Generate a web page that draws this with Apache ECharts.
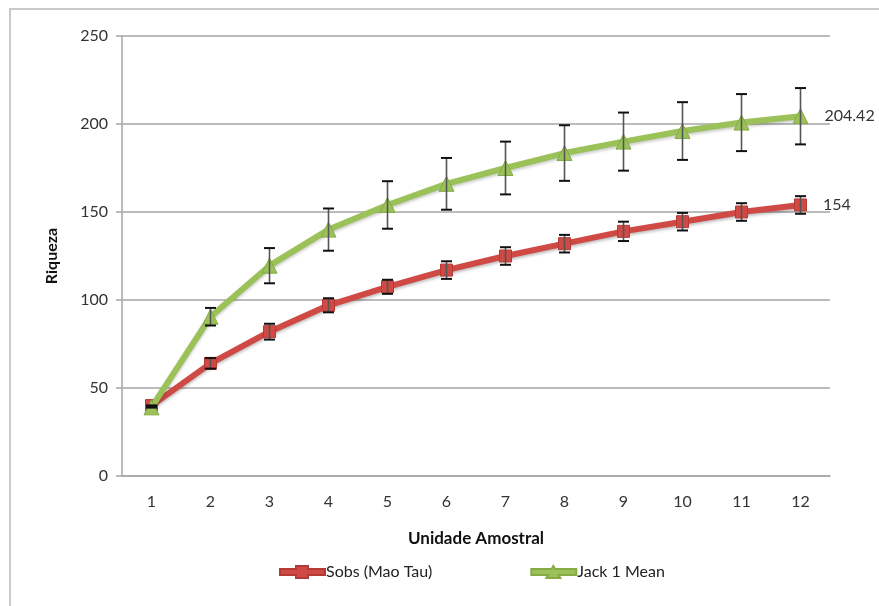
<!DOCTYPE html>
<html>
<head>
<meta charset="utf-8">
<script src="https://cdn.jsdelivr.net/npm/echarts@6/dist/echarts.min.js"></script>
<style>
  html, body { margin: 0; padding: 0; background: #fff; }
  #chart { width: 879px; height: 606px; }
</style>
</head>
<body>
<div id="chart"></div>
<script>
// Sample units along the x axis
const units = ['1', '2', '3', '4', '5', '6', '7', '8', '9', '10', '11', '12'];

// Observed richness (Mao Tau) and its error half-widths
const sobs = [40, 64, 82, 97, 107.5, 117, 125, 132, 139, 144.5, 150, 154];
const sobsErr = [0, 3, 4.5, 4, 4, 5, 5, 5, 5.5, 5, 5, 5];

// Jackknife 1 estimator and its error half-widths
const jack1 = [39, 90.5, 119.5, 140, 154, 166, 175, 183.5, 190, 196, 200.8, 204.42];
const jack1Err = [0, 5, 10, 12, 13.5, 14.7, 15, 15.8, 16.5, 16.4, 16.2, 16];

const yTicks = { min: 0, max: 250, interval: 50 };

const FONT = 'Lato, "Open Sans", sans-serif';
const RED = '#cf4a44';
const GREEN = '#9bc159';

// Legend glyphs: thick line segment with the series marker in the middle
const RED_ICON = 'path://M0,3H16V0H28V3H45V9H28V12H16V9H0Z';
const GREEN_ICON = 'path://M0,3H20.25L22,0L23.75,3H45V9H27.25L29,12H15L16.75,9H0Z';

function errorData(values, errs) {
  return values.map((v, i) => [i, v - errs[i], v + errs[i]]);
}

function renderErrorBar(params, api) {
  const idx = api.value(0);
  const lo = api.coord([idx, api.value(1)]);
  const hi = api.coord([idx, api.value(2)]);
  const half = 5.5;
  const barStyle = { stroke: '#555', lineWidth: 1.6 };
  const capStyle = { stroke: '#111', lineWidth: 2 };
  return {
    type: 'group',
    children: [
      { type: 'line', shape: { x1: hi[0], y1: hi[1], x2: lo[0], y2: lo[1] }, style: barStyle },
      { type: 'line', shape: { x1: hi[0] - half, y1: hi[1], x2: hi[0] + half, y2: hi[1] }, style: capStyle },
      { type: 'line', shape: { x1: lo[0] - half, y1: lo[1], x2: lo[0] + half, y2: lo[1] }, style: capStyle }
    ]
  };
}

function endLabel(values) {
  return {
    show: true,
    position: 'right',
    distance: 16,
    color: '#333',
    fontFamily: FONT,
    fontSize: 16,
    formatter: p => (p.dataIndex === values.length - 1 ? String(values[p.dataIndex]) : '')
  };
}

const chart = echarts.init(document.getElementById('chart'), null, { renderer: 'canvas' });

chart.setOption({
  backgroundColor: '#fff',
  animation: false,
  textStyle: { fontFamily: FONT },
  graphic: [{
    type: 'rect',
    shape: { x: 10, y: 9, width: 900, height: 700 },
    style: { fill: 'none', stroke: '#c9c9c9', lineWidth: 2 },
    silent: true,
    z: -10
  }],
  grid: { left: 122, right: 49, top: 36, bottom: 130, containLabel: false },
  legend: {
    bottom: 21,
    left: 274,
    itemWidth: 45,
    itemHeight: 12,
    itemGap: 98,
    textStyle: { fontFamily: FONT, fontSize: 16, color: '#222', padding: [0, 0, 0, -4] },
    data: [
      { name: 'Sobs (Mao Tau)', icon: RED_ICON, itemStyle: { color: RED } },
      { name: 'Jack 1 Mean', icon: GREEN_ICON, itemStyle: { color: GREEN } }
    ]
  },
  xAxis: {
    type: 'category',
    data: units,
    boundaryGap: true,
    name: 'Unidade Amostral',
    nameLocation: 'middle',
    nameGap: 54,
    nameTextStyle: { fontFamily: FONT, fontSize: 17, fontWeight: 'bold', color: '#111' },
    axisLine: { show: true, lineStyle: { color: '#a6a6a6', width: 1.5 } },
    axisTick: { show: false },
    axisLabel: { fontFamily: FONT, fontSize: 16, color: '#333', margin: 18 },
    splitLine: { show: false }
  },
  yAxis: {
    type: 'value',
    min: yTicks.min,
    max: yTicks.max,
    interval: yTicks.interval,
    name: 'Riqueza',
    nameLocation: 'middle',
    nameGap: 62,
    nameTextStyle: { fontFamily: FONT, fontSize: 16, fontWeight: 'bold', color: '#111' },
    axisLine: { show: true, lineStyle: { color: '#a6a6a6', width: 1.5 } },
    axisTick: { show: true, length: 6, lineStyle: { color: '#a6a6a6', width: 1.5 } },
    axisLabel: { fontFamily: FONT, fontSize: 16, color: '#333', margin: 14 },
    splitLine: { show: true, lineStyle: { color: '#a6a6a6', width: 1.5 } }
  },
  series: [
    {
      name: 'Sobs (Mao Tau)',
      type: 'line',
      data: sobs,
      symbol: 'rect',
      symbolSize: 12,
      lineStyle: { color: RED, width: 6, shadowColor: 'rgba(0,0,0,0.25)', shadowBlur: 3, shadowOffsetY: 2 },
      itemStyle: { color: RED, borderColor: '#b53a35', borderWidth: 1 },
      label: endLabel(sobs),
      z: 2
    },
    {
      name: 'Jack 1 Mean',
      type: 'line',
      data: jack1,
      symbol: 'triangle',
      symbolSize: 15,
      lineStyle: { color: GREEN, width: 6, shadowColor: 'rgba(0,0,0,0.2)', shadowBlur: 3, shadowOffsetY: 2 },
      itemStyle: { color: GREEN, borderColor: '#86ab46', borderWidth: 1 },
      label: endLabel(jack1),
      z: 3
    },
    {
      name: 'sobsErr',
      type: 'custom',
      renderItem: renderErrorBar,
      data: errorData(sobs, sobsErr),
      encode: { x: 0, y: [1, 2] },
      silent: true,
      z: 4
    },
    {
      name: 'jack1Err',
      type: 'custom',
      renderItem: renderErrorBar,
      data: errorData(jack1, jack1Err),
      encode: { x: 0, y: [1, 2] },
      silent: true,
      z: 4
    }
  ]
});
</script>
</body>
</html>
